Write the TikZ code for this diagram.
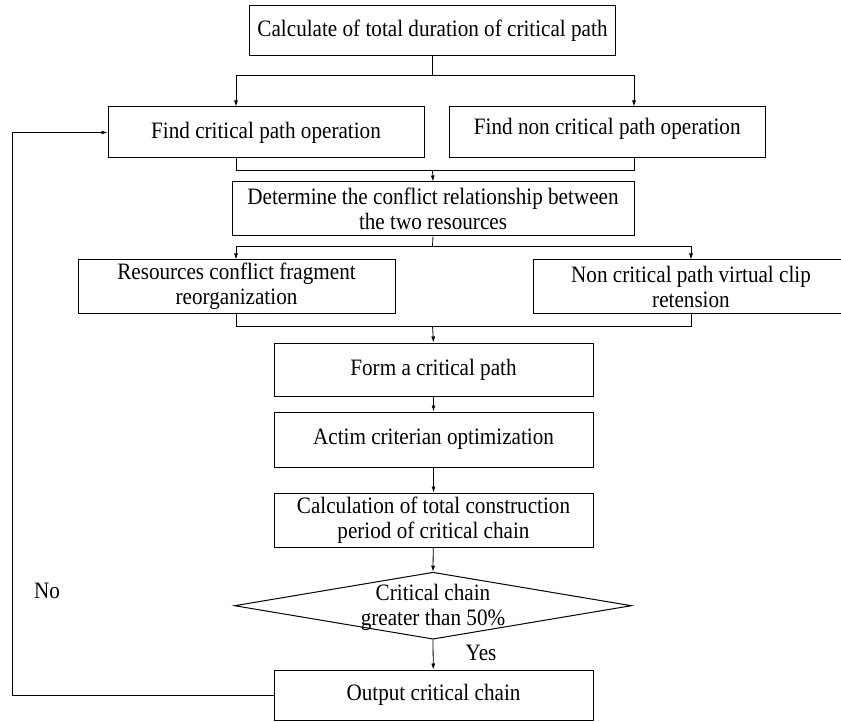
\documentclass[tikz,border=0pt]{standalone}
\usepackage{fontspec}
\setmainfont{Liberation Serif}[FakeStretch=0.9]
\usetikzlibrary{arrows.meta,shapes.geometric}
\begin{document}
\begin{tikzpicture}[x=1pt,y=-1pt,
  txt/.style={font=\fontsize{23.5}{25}\selectfont,align=center},
  box/.style={txt,draw,line width=1pt,rectangle,inner sep=0pt},
  arr/.style={-{Latex[length=6pt,width=4pt]},line width=0.8pt},
  ln/.style={line width=0.8pt}]
\useasboundingbox (0,0) rectangle (841,722);
\clip (0,0) rectangle (841,722);
% boxes
\node[box,minimum width=366,minimum height=50] (top) at (432.5,31) {Calculate of total duration of critical path};
\node[box,minimum width=316,minimum height=51] (fcp) at (266,132.5) {Find critical path operation};
\node[box,minimum width=316.5,minimum height=51] (fncp) at (607.25,132.5) {\raisebox{4pt}[\height][\depth]{Find non critical path operation}};
\node[box,minimum width=402,minimum height=54] (det) at (433,209) {Determine the conflict relationship between\\the two resources};
\node[box,minimum width=317,minimum height=53] (rcf) at (236.5,286.5) {Resources conflict fragment\\reorganization};
\node[box,minimum width=316,minimum height=53] (ncv) at (691,286.5) {Non critical path virtual clip\\retension};
\node[box,minimum width=319,minimum height=53] (form) at (433.5,369.5) {Form a critical path};
\node[box,minimum width=319,minimum height=55] (actim) at (433.5,439.5) {Actim criterian optimization};
\node[box,minimum width=319,minimum height=54] (calc) at (433.5,520) {Calculation of total construction\\period of critical chain};
\node[draw,line width=1pt,diamond,inner sep=0pt,minimum width=397,minimum height=67] (dec) at (433,605.7) {};
\node[txt] (dectxt) at (433,607.5) {Critical chain\\greater than 50\%};
\node[box,minimum width=319,minimum height=50] (out) at (433.5,695) {Output critical chain};
\node[txt] (no) at (47,591) {No};
\node[txt] (yes) at (481,653) {Yes};
% helper coordinates
\coordinate (lx) at (236,0);
\coordinate (rx) at (634,0);
\coordinate (rx2) at (691,0);
\coordinate (b1) at (432.5,75);
\coordinate (m1) at (432.5,170);
\coordinate (b2) at (432.5,246);
\coordinate (m2) at (432.5,326);
\coordinate (lp) at (12,0);
% connectors
\draw[ln] (top.south) -- (b1);
\draw[arr] (b1) -| (lx |- fcp.north);
\draw[arr] (b1) -| (rx |- fncp.north);
\draw[ln] (lx |- fcp.south) |- (rx |- m1) -- (rx |- fncp.south);
\draw[arr] (m1) -- (det.north);
\draw[ln] (det.south) -- (b2);
\draw[arr] (b2) -| (lx |- rcf.north);
\draw[arr] (b2) -| (rx2 |- ncv.north);
\draw[ln] (lx |- rcf.south) |- (rx2 |- m2) -- (rx2 |- ncv.south);
\draw[arr] (m2) -- (form.north);
\draw[arr] (form) -- (actim);
\draw[arr] (actim) -- (calc);
\draw[arr] (calc) -- (dec.north);
\draw[arr] (dec.south) -- (out);
\draw[arr] (out.west) -| (lp |- fcp.west) -- (fcp.west);
\end{tikzpicture}
\end{document}
